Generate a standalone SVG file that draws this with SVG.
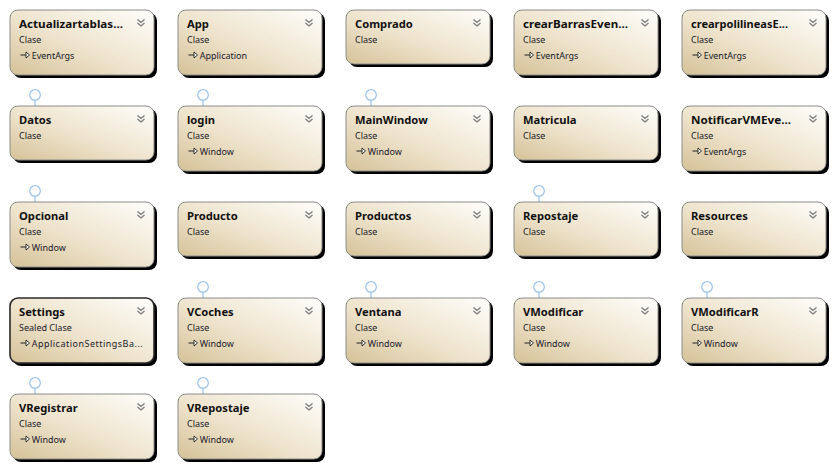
<svg xmlns="http://www.w3.org/2000/svg" width="835" height="469" viewBox="0 0 835 469">
<defs>
<linearGradient id="fillG" x1="0" y1="1" x2="1" y2="0">
<stop offset="0" stop-color="#d5c298"/>
<stop offset="0.45" stop-color="#eee3cc"/>
<stop offset="1" stop-color="#fffefb"/>
</linearGradient>
<filter id="sh" x="-10%" y="-10%" width="130%" height="140%">
<feGaussianBlur stdDeviation="0.5"/>
</filter>
<symbol id="chev" overflow="visible">
<path d="M-3.5,-3.5 L0,-0.5 L3.5,-3.5 M-3.5,0 L0,3 L3.5,0" fill="none" stroke="#7a7a7a" stroke-width="1.3"/>
</symbol>
<symbol id="inh" overflow="visible">
<path d="M0,0 H6" stroke="#222" stroke-width="1" fill="none"/>
<path d="M5.5,-3 L9,0 L5.5,3 Z" fill="#fff" stroke="#222" stroke-width="0.9"/>
</symbol>
</defs>
<style>
.bg{fill:#ffffff}
.shadow{fill:#000;filter:url(#sh)}
.box{fill:url(#fillG);stroke:#8c8c8c;stroke-width:1}
.sel{stroke:#2b2b2b;stroke-width:1.6}
.t{font-family:"Noto Sans","Open Sans",sans-serif;font-weight:bold;font-size:11.2px;fill:#111}
.s{font-family:"Noto Sans","Open Sans",sans-serif;font-size:9px;fill:#1a1a2a}
.lol{fill:#fff;stroke:#9cc3ec;stroke-width:1.3}
.stem{stroke:#9cc3ec;stroke-width:1.3}
</style>
<rect class="bg" x="0" y="0" width="835" height="469"/>
<g id="connectors"></g>

<!-- Row 0 -->
<g id="node-Actualizartablas" transform="translate(10,10)">
<rect class="shadow" x="3" y="3" width="144" height="65" rx="8"/>
<rect class="box" x="0" y="0" width="144" height="65" rx="8"/>
<text class="t" x="9" y="17.5" textLength="104" lengthAdjust="spacingAndGlyphs">Actualizartablas...</text>
<use href="#chev" x="131" y="13"/>
<text class="s" x="9" y="33">Clase</text>
<use href="#inh" x="10.5" y="45"/>
<text class="s" x="21.7" y="48.5">EventArgs</text>
</g>
<g id="node-App" transform="translate(178,10)">
<rect class="shadow" x="3" y="3" width="144" height="65" rx="8"/>
<rect class="box" x="0" y="0" width="144" height="65" rx="8"/>
<text class="t" x="9" y="17.5">App</text>
<use href="#chev" x="131" y="13"/>
<text class="s" x="9" y="33">Clase</text>
<use href="#inh" x="10.5" y="45"/>
<text class="s" x="21.7" y="48.5">Application</text>
</g>
<g id="node-Comprado" transform="translate(346,10)">
<rect class="shadow" x="3" y="3" width="144" height="54" rx="8"/>
<rect class="box" x="0" y="0" width="144" height="54" rx="8"/>
<text class="t" x="9" y="17.5">Comprado</text>
<use href="#chev" x="131" y="13"/>
<text class="s" x="9" y="33">Clase</text>
</g>
<g id="node-crearBarrasEven" transform="translate(514,10)">
<rect class="shadow" x="3" y="3" width="144" height="65" rx="8"/>
<rect class="box" x="0" y="0" width="144" height="65" rx="8"/>
<text class="t" x="9" y="17.5" textLength="105" lengthAdjust="spacingAndGlyphs">crearBarrasEven...</text>
<use href="#chev" x="131" y="13"/>
<text class="s" x="9" y="33">Clase</text>
<use href="#inh" x="10.5" y="45"/>
<text class="s" x="21.7" y="48.5">EventArgs</text>
</g>
<g id="node-crearpolilineasE" transform="translate(682,10)">
<rect class="shadow" x="3" y="3" width="144" height="65" rx="8"/>
<rect class="box" x="0" y="0" width="144" height="65" rx="8"/>
<text class="t" x="9" y="17.5" textLength="97" lengthAdjust="spacingAndGlyphs">crearpolilineasE...</text>
<use href="#chev" x="131" y="13"/>
<text class="s" x="9" y="33">Clase</text>
<use href="#inh" x="10.5" y="45"/>
<text class="s" x="21.7" y="48.5">EventArgs</text>
</g>

<!-- Row 1 -->
<g id="node-Datos" transform="translate(10,106)">
<line class="stem" x1="25" y1="-5.5" x2="25" y2="0"/>
<circle class="lol" cx="25" cy="-11" r="5.3"/>
<rect class="shadow" x="3" y="3" width="144" height="54" rx="8"/>
<rect class="box" x="0" y="0" width="144" height="54" rx="8"/>
<text class="t" x="9" y="17.5">Datos</text>
<use href="#chev" x="131" y="13"/>
<text class="s" x="9" y="33">Clase</text>
</g>
<g id="node-login" transform="translate(178,106)">
<line class="stem" x1="25" y1="-5.5" x2="25" y2="0"/>
<circle class="lol" cx="25" cy="-11" r="5.3"/>
<rect class="shadow" x="3" y="3" width="144" height="65" rx="8"/>
<rect class="box" x="0" y="0" width="144" height="65" rx="8"/>
<text class="t" x="9" y="17.5">login</text>
<use href="#chev" x="131" y="13"/>
<text class="s" x="9" y="33">Clase</text>
<use href="#inh" x="10.5" y="45"/>
<text class="s" x="21.7" y="48.5">Window</text>
</g>
<g id="node-MainWindow" transform="translate(346,106)">
<line class="stem" x1="25" y1="-5.5" x2="25" y2="0"/>
<circle class="lol" cx="25" cy="-11" r="5.3"/>
<rect class="shadow" x="3" y="3" width="144" height="65" rx="8"/>
<rect class="box" x="0" y="0" width="144" height="65" rx="8"/>
<text class="t" x="9" y="17.5">MainWindow</text>
<use href="#chev" x="131" y="13"/>
<text class="s" x="9" y="33">Clase</text>
<use href="#inh" x="10.5" y="45"/>
<text class="s" x="21.7" y="48.5">Window</text>
</g>
<g id="node-Matricula" transform="translate(514,106)">
<rect class="shadow" x="3" y="3" width="144" height="54" rx="8"/>
<rect class="box" x="0" y="0" width="144" height="54" rx="8"/>
<text class="t" x="9" y="17.5">Matricula</text>
<use href="#chev" x="131" y="13"/>
<text class="s" x="9" y="33">Clase</text>
</g>
<g id="node-NotificarVMEve" transform="translate(682,106)">
<rect class="shadow" x="3" y="3" width="144" height="65" rx="8"/>
<rect class="box" x="0" y="0" width="144" height="65" rx="8"/>
<text class="t" x="9" y="17.5" textLength="100" lengthAdjust="spacingAndGlyphs">NotificarVMEve...</text>
<use href="#chev" x="131" y="13"/>
<text class="s" x="9" y="33">Clase</text>
<use href="#inh" x="10.5" y="45"/>
<text class="s" x="21.7" y="48.5">EventArgs</text>
</g>

<!-- Row 2 -->
<g id="node-Opcional" transform="translate(10,202)">
<line class="stem" x1="25" y1="-5.5" x2="25" y2="0"/>
<circle class="lol" cx="25" cy="-11" r="5.3"/>
<rect class="shadow" x="3" y="3" width="144" height="65" rx="8"/>
<rect class="box" x="0" y="0" width="144" height="65" rx="8"/>
<text class="t" x="9" y="17.5">Opcional</text>
<use href="#chev" x="131" y="13"/>
<text class="s" x="9" y="33">Clase</text>
<use href="#inh" x="10.5" y="45"/>
<text class="s" x="21.7" y="48.5">Window</text>
</g>
<g id="node-Producto" transform="translate(178,202)">
<rect class="shadow" x="3" y="3" width="144" height="54" rx="8"/>
<rect class="box" x="0" y="0" width="144" height="54" rx="8"/>
<text class="t" x="9" y="17.5">Producto</text>
<use href="#chev" x="131" y="13"/>
<text class="s" x="9" y="33">Clase</text>
</g>
<g id="node-Productos" transform="translate(346,202)">
<rect class="shadow" x="3" y="3" width="144" height="54" rx="8"/>
<rect class="box" x="0" y="0" width="144" height="54" rx="8"/>
<text class="t" x="9" y="17.5">Productos</text>
<use href="#chev" x="131" y="13"/>
<text class="s" x="9" y="33">Clase</text>
</g>
<g id="node-Repostaje" transform="translate(514,202)">
<line class="stem" x1="25" y1="-5.5" x2="25" y2="0"/>
<circle class="lol" cx="25" cy="-11" r="5.3"/>
<rect class="shadow" x="3" y="3" width="144" height="54" rx="8"/>
<rect class="box" x="0" y="0" width="144" height="54" rx="8"/>
<text class="t" x="9" y="17.5">Repostaje</text>
<use href="#chev" x="131" y="13"/>
<text class="s" x="9" y="33">Clase</text>
</g>
<g id="node-Resources" transform="translate(682,202)">
<rect class="shadow" x="3" y="3" width="144" height="54" rx="8"/>
<rect class="box" x="0" y="0" width="144" height="54" rx="8"/>
<text class="t" x="9" y="17.5">Resources</text>
<use href="#chev" x="131" y="13"/>
<text class="s" x="9" y="33">Clase</text>
</g>

<!-- Row 3 -->
<g id="node-Settings" transform="translate(10,298)">
<rect class="shadow" x="3" y="3" width="144" height="65" rx="8"/>
<rect class="box sel" x="0" y="0" width="144" height="65" rx="8"/>
<text class="t" x="9" y="17.5">Settings</text>
<use href="#chev" x="131" y="13"/>
<text class="s" x="9" y="33">Sealed Clase</text>
<use href="#inh" x="10.5" y="45"/>
<text class="s" x="21.7" y="48.5" textLength="111" lengthAdjust="spacing">ApplicationSettingsBa...</text>
</g>
<g id="node-VCoches" transform="translate(178,298)">
<line class="stem" x1="25" y1="-5.5" x2="25" y2="0"/>
<circle class="lol" cx="25" cy="-11" r="5.3"/>
<rect class="shadow" x="3" y="3" width="144" height="65" rx="8"/>
<rect class="box" x="0" y="0" width="144" height="65" rx="8"/>
<text class="t" x="9" y="17.5">VCoches</text>
<use href="#chev" x="131" y="13"/>
<text class="s" x="9" y="33">Clase</text>
<use href="#inh" x="10.5" y="45"/>
<text class="s" x="21.7" y="48.5">Window</text>
</g>
<g id="node-Ventana" transform="translate(346,298)">
<line class="stem" x1="25" y1="-5.5" x2="25" y2="0"/>
<circle class="lol" cx="25" cy="-11" r="5.3"/>
<rect class="shadow" x="3" y="3" width="144" height="65" rx="8"/>
<rect class="box" x="0" y="0" width="144" height="65" rx="8"/>
<text class="t" x="9" y="17.5">Ventana</text>
<use href="#chev" x="131" y="13"/>
<text class="s" x="9" y="33">Clase</text>
<use href="#inh" x="10.5" y="45"/>
<text class="s" x="21.7" y="48.5">Window</text>
</g>
<g id="node-VModificar" transform="translate(514,298)">
<line class="stem" x1="25" y1="-5.5" x2="25" y2="0"/>
<circle class="lol" cx="25" cy="-11" r="5.3"/>
<rect class="shadow" x="3" y="3" width="144" height="65" rx="8"/>
<rect class="box" x="0" y="0" width="144" height="65" rx="8"/>
<text class="t" x="9" y="17.5">VModificar</text>
<use href="#chev" x="131" y="13"/>
<text class="s" x="9" y="33">Clase</text>
<use href="#inh" x="10.5" y="45"/>
<text class="s" x="21.7" y="48.5">Window</text>
</g>
<g id="node-VModificarR" transform="translate(682,298)">
<line class="stem" x1="25" y1="-5.5" x2="25" y2="0"/>
<circle class="lol" cx="25" cy="-11" r="5.3"/>
<rect class="shadow" x="3" y="3" width="144" height="65" rx="8"/>
<rect class="box" x="0" y="0" width="144" height="65" rx="8"/>
<text class="t" x="9" y="17.5">VModificarR</text>
<use href="#chev" x="131" y="13"/>
<text class="s" x="9" y="33">Clase</text>
<use href="#inh" x="10.5" y="45"/>
<text class="s" x="21.7" y="48.5">Window</text>
</g>

<!-- Row 4 -->
<g id="node-VRegistrar" transform="translate(10,394)">
<line class="stem" x1="25" y1="-5.5" x2="25" y2="0"/>
<circle class="lol" cx="25" cy="-11" r="5.3"/>
<rect class="shadow" x="3" y="3" width="144" height="65" rx="8"/>
<rect class="box" x="0" y="0" width="144" height="65" rx="8"/>
<text class="t" x="9" y="17.5">VRegistrar</text>
<use href="#chev" x="131" y="13"/>
<text class="s" x="9" y="33">Clase</text>
<use href="#inh" x="10.5" y="45"/>
<text class="s" x="21.7" y="48.5">Window</text>
</g>
<g id="node-VRepostaje" transform="translate(178,394)">
<line class="stem" x1="25" y1="-5.5" x2="25" y2="0"/>
<circle class="lol" cx="25" cy="-11" r="5.3"/>
<rect class="shadow" x="3" y="3" width="144" height="65" rx="8"/>
<rect class="box" x="0" y="0" width="144" height="65" rx="8"/>
<text class="t" x="9" y="17.5">VRepostaje</text>
<use href="#chev" x="131" y="13"/>
<text class="s" x="9" y="33">Clase</text>
<use href="#inh" x="10.5" y="45"/>
<text class="s" x="21.7" y="48.5">Window</text>
</g>
</svg>
